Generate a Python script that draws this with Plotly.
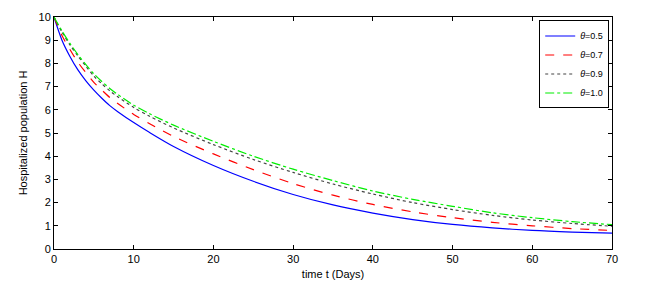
import plotly.graph_objects as go

t = [0, 1, 2, 3, 4, 5, 6, 7, 8, 10, 12, 15, 20, 25, 30, 35, 40, 45, 50, 55, 60, 65, 70]
h_05 = [10, 9.0, 8.3, 7.72, 7.25, 6.85, 6.5, 6.18, 5.92, 5.45, 5.02, 4.42, 3.6, 2.92, 2.35, 1.9, 1.55, 1.27, 1.06, 0.91, 0.8, 0.73, 0.68]
h_07 = [10, 9.2, 8.6, 8.05, 7.6, 7.18, 6.85, 6.53, 6.27, 5.8, 5.4, 4.85, 4.1, 3.42, 2.82, 2.32, 1.92, 1.6, 1.35, 1.15, 1.0, 0.88, 0.8]
h_09 = [10, 9.35, 8.8, 8.32, 7.88, 7.45, 7.12, 6.82, 6.56, 6.1, 5.72, 5.22, 4.5, 3.86, 3.3, 2.8, 2.37, 2.0, 1.7, 1.45, 1.25, 1.1, 0.98]
h_10 = [10, 9.4, 8.86, 8.38, 7.95, 7.55, 7.22, 6.92, 6.66, 6.2, 5.83, 5.34, 4.64, 4.0, 3.44, 2.95, 2.5, 2.14, 1.84, 1.56, 1.35, 1.18, 1.05]

series = [
    ("<i>θ</i>=0.5", h_05, "#0000ff", "solid"),
    ("<i>θ</i>=0.7", h_07, "#ff0000", "dash"),
    ("<i>θ</i>=0.9", h_09, "#444444", "dot"),
    ("<i>θ</i>=1.0", h_10, "#00ee00", "dashdot"),
]

fig = go.Figure()
for name, y, c, d in series:
    fig.add_trace(go.Scatter(x=t, y=y, mode="lines", name=name,
                             line=dict(color=c, dash=d, width=1.2, shape="spline", smoothing=0.8)))

axis_common = dict(showgrid=False, zeroline=False, showline=True, linecolor="black",
                   linewidth=1, mirror="ticks", ticks="inside", ticklen=4,
                   tickcolor="black", tickfont=dict(size=11, color="black"),
                   automargin=False)

fig.update_layout(
    width=646, height=294,
    margin=dict(l=54, r=34, t=17, b=45),
    paper_bgcolor="white", plot_bgcolor="white",
    font=dict(family="Liberation Sans, Arial, sans-serif", color="black"),
    xaxis=dict(range=[0, 70], dtick=10,
               title=dict(text="time t (Days)", font=dict(size=11), standoff=6), **axis_common),
    yaxis=dict(range=[0, 10], dtick=1,
               title=dict(text="Hospitalized population H", font=dict(size=11), standoff=8), **axis_common),
    legend=dict(x=0.995, y=0.985, xanchor="right", yanchor="top",
                bordercolor="black", borderwidth=1, bgcolor="white",
                font=dict(size=9), tracegroupgap=0, itemwidth=30),
    showlegend=True,
)

fig.write_html("out.html", config={"displayModeBar": False},
               post_script="document.body.style.margin='0';document.body.style.overflow='hidden';")
